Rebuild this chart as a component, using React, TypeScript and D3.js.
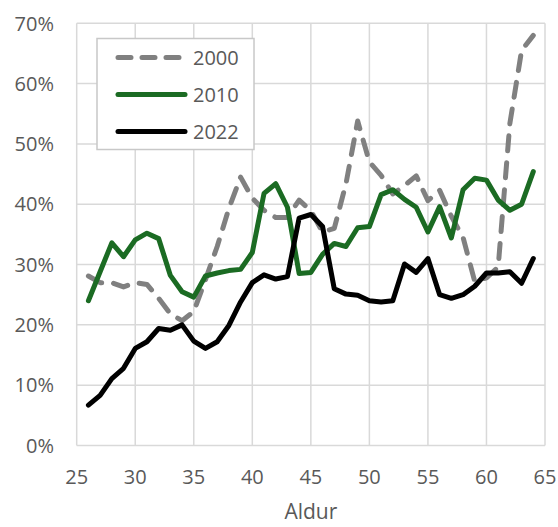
import React from "react";
import * as d3 from "d3";

const ages: number[] = [
  26, 27, 28, 29, 30, 31, 32, 33, 34, 35, 36, 37, 38, 39, 40, 41, 42, 43, 44, 45,
  46, 47, 48, 49, 50, 51, 52, 53, 54, 55, 56, 57, 58, 59, 60, 61, 62, 63, 64,
];

const series2000: number[] = [
  28.1, 27.0, 27.0, 26.3, 27.0, 26.7, 24.4, 21.8, 20.7, 22.2, 27.5, 33.0, 39.3, 44.5, 41.0, 39.0, 37.8, 37.8, 40.7, 38.9,
  35.4, 36.0, 43.4, 53.8, 47.0, 44.8, 41.7, 43.1, 44.7, 40.6, 42.3, 38.0, 34.5, 27.2, 27.8, 29.6, 53.4, 65.5, 68.0,
];

const series2010: number[] = [
  24.0, 28.8, 33.6, 31.3, 34.1, 35.2, 34.3, 28.2, 25.5, 24.6, 28.1, 28.6, 29.0, 29.2, 32.0, 41.8, 43.4, 39.5, 28.5, 28.7,
  31.7, 33.5, 33.0, 36.1, 36.3, 41.6, 42.4, 40.8, 39.5, 35.4, 39.6, 34.4, 42.4, 44.3, 44.0, 40.7, 39.0, 40.0, 45.4,
];

const series2022: number[] = [
  6.7, 8.3, 11.1, 12.8, 16.1, 17.2, 19.4, 19.1, 20.0, 17.3, 16.1, 17.2, 19.9, 23.8, 27.0, 28.3, 27.6, 28.0, 37.7, 38.3,
  36.3, 26.0, 25.1, 24.9, 24.0, 23.8, 24.0, 30.1, 28.7, 31.0, 25.0, 24.4, 25.0, 26.4, 28.6, 28.6, 28.8, 26.9, 31.0,
];

const seriesNames: string[] = ["2000", "2010", "2022"];
const xTicks: number[] = [25, 30, 35, 40, 45, 50, 55, 60, 65];
const yTicks: number[] = [0, 10, 20, 30, 40, 50, 60, 70];
const xAxisTitle = "Aldur";

const W = 558;
const H = 527;
const plot = { left: 76.7, right: 545, top: 23.3, bottom: 445.5 };
const FONT = "'Open Sans', 'Liberation Sans', sans-serif";
const TEXT = "#595959";
const GRID = "#d9d9d9";

const styles = [
  { color: "#808080", dash: "15 12" },
  { color: "#1b6b23", dash: null as string | null },
  { color: "#000000", dash: null as string | null },
];

export default function App() {
  const x = d3.scaleLinear().domain([25, 65]).range([plot.left, plot.right]);
  const y = d3.scaleLinear().domain([0, 70]).range([plot.bottom, plot.top]);
  const all = [series2000, series2010, series2022];
  const line = d3
    .line<number>()
    .x((_, i) => x(ages[i]))
    .y((d) => y(d));

  const legend = { x: 97, y: 38.5, w: 157, h: 111 };
  const legendRows = [57.5, 94.5, 131.5];

  return (
    <svg
      width={W}
      height={H}
      style={{ position: "absolute", left: 0, top: 0, background: "#fff" }}
    >
      {yTicks.map((t) => (
        <line key={"gy" + t} x1={plot.left} x2={plot.right} y1={y(t)} y2={y(t)} stroke={GRID} strokeWidth={1.5} />
      ))}
      {xTicks.map((t) => (
        <line key={"gx" + t} x1={x(t)} x2={x(t)} y1={plot.top} y2={plot.bottom} stroke={GRID} strokeWidth={1.5} />
      ))}
      {yTicks.map((t) => (
        <text key={"ly" + t} x={54} y={y(t)} dy="0.36em" textAnchor="end" fontFamily={FONT} fontSize={20} fill={TEXT}>
          {t + "%"}
        </text>
      ))}
      {xTicks.map((t) => (
        <text key={"lx" + t} x={x(t)} y={484} textAnchor="middle" fontFamily={FONT} fontSize={20} fill={TEXT}>
          {t}
        </text>
      ))}
      <text x={(plot.left + plot.right) / 2} y={519} textAnchor="middle" fontFamily={FONT} fontSize={21} fill={TEXT}>
        {xAxisTitle}
      </text>
      {all.map((s, i) => (
        <path
          key={"s" + i}
          d={line(s) || ""}
          fill="none"
          stroke={styles[i].color}
          strokeWidth={5}
          strokeLinejoin="round"
          strokeLinecap="round"
          strokeDasharray={styles[i].dash || undefined}
        />
      ))}
      <rect x={legend.x} y={legend.y} width={legend.w} height={legend.h} fill="#fff" stroke="#c8c8c8" strokeWidth={1.5} />
      {seriesNames.map((n, i) => (
        <g key={"lg" + i}>
          <line
            x1={118}
            x2={185}
            y1={legendRows[i]}
            y2={legendRows[i]}
            stroke={styles[i].color}
            strokeWidth={5}
            strokeLinecap="round"
            strokeDasharray={styles[i].dash ? "13 11" : undefined}
          />
          <text x={193} y={legendRows[i]} dy="0.36em" fontFamily={FONT} fontSize={20} fill={TEXT}>
            {n}
          </text>
        </g>
      ))}
    </svg>
  );
}
